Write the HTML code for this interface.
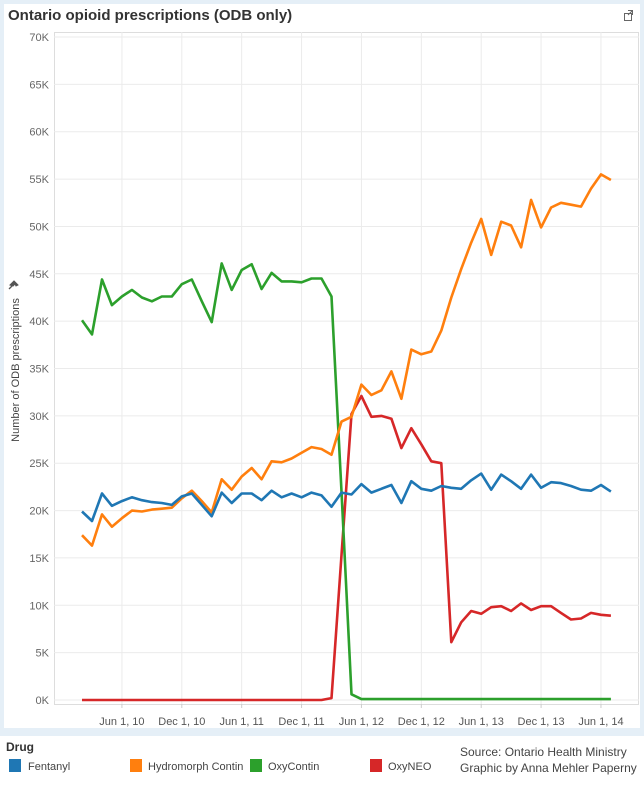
<!DOCTYPE html>
<html><head><meta charset="utf-8">
<style>
body{margin:0;width:644px;height:787px;background:#fff;font-family:"Liberation Sans",sans-serif;overflow:hidden}
svg text{font-family:"Liberation Sans",sans-serif}
</style></head>
<body>
<svg id="chart" width="644" height="787" xmlns="http://www.w3.org/2000/svg">
<rect x="0" y="0" width="644" height="736" fill="#e5eff7"/>
<rect x="4" y="4" width="636" height="724" fill="#fff"/>
<text x="8" y="20" font-size="15" font-weight="bold" fill="#333">Ontario opioid prescriptions (ODB only)</text>
<g stroke="#666" fill="none" stroke-width="1"><rect x="624.5" y="13.5" width="7" height="7"/><path d="M628 10.5h4.5v4.5M632.5 10.5l-4.5 4.5"/></g>
<g id="grid"></g>
<g id="marks"></g>
<text transform="translate(19,370) rotate(-90)" text-anchor="middle" font-size="11" fill="#444">Number of ODB prescriptions</text>
<g fill="#555" stroke="#555"><path d="M10 285 L14 281 L18 285 L16 286 L15 284 L13 286 Z" stroke-width="1"/><line x1="12" y1="286" x2="9" y2="289" stroke-width="1.3"/></g>
<text x="6" y="751" font-size="12" font-weight="bold" fill="#333">Drug</text>
<g><rect x="9" y="759" width="12" height="13" fill="#1f77b4"/><text x="28" y="770" font-size="11" fill="#444">Fentanyl</text></g>
<g><rect x="130" y="759" width="12" height="13" fill="#ff7f0e"/><text x="148" y="770" font-size="11" fill="#444">Hydromorph Contin</text></g>
<g><rect x="250" y="759" width="12" height="13" fill="#2ca02c"/><text x="268" y="770" font-size="11" fill="#444">OxyContin</text></g>
<g><rect x="370" y="759" width="12" height="13" fill="#d62728"/><text x="388" y="770" font-size="11" fill="#444">OxyNEO</text></g>
<text x="460" y="756" font-size="12" fill="#444">Source: Ontario Health Ministry</text>
<text x="460" y="772" font-size="12" fill="#444">Graphic by Anna Mehler Paperny</text>
</svg>
<script>
const yTicks = [0,5,10,15,20,25,30,35,40,45,50,55,60,65,70];
const xTickLabels = ["Jun 1, 10","Dec 1, 10","Jun 1, 11","Dec 1, 11","Jun 1, 12","Dec 1, 12","Jun 1, 13","Dec 1, 13","Jun 1, 14"];
const xTickMonths = [4,10,16,22,28,34,40,46,52];
const seriesNames = ["Fentanyl","Hydromorph Contin","OxyContin","OxyNEO"];
const fentanyl = [19.9,18.9,21.8,20.5,21.0,21.4,21.1,20.9,20.8,20.6,21.5,21.8,20.6,19.4,21.9,20.8,21.8,21.8,21.1,22.1,21.4,21.8,21.4,21.9,21.6,20.4,21.9,21.7,22.8,21.9,22.3,22.7,20.8,23.1,22.3,22.1,22.6,22.4,22.3,23.2,23.9,22.2,23.8,23.1,22.3,23.8,22.4,23.0,22.9,22.6,22.2,22.1,22.7,22.0];
const hydromorph = [17.4,16.3,19.6,18.3,19.2,20.0,19.9,20.1,20.2,20.3,21.3,22.1,21.0,19.8,23.3,22.2,23.6,24.5,23.3,25.2,25.1,25.5,26.1,26.7,26.5,25.9,29.4,29.9,33.3,32.2,32.7,34.7,31.8,37.0,36.5,36.8,39.0,42.5,45.5,48.3,50.8,47.0,50.5,50.1,47.8,52.8,49.9,52.0,52.5,52.3,52.1,54.0,55.5,54.9];
const oxycontin = [40.1,38.6,44.4,41.7,42.6,43.3,42.5,42.1,42.6,42.6,43.9,44.4,42.1,39.9,46.1,43.3,45.4,46.0,43.4,45.1,44.2,44.2,44.1,44.5,44.5,42.6,22.0,0.6,0.1,0.1,0.1,0.1,0.1,0.1,0.1,0.1,0.1,0.1,0.1,0.1,0.1,0.1,0.1,0.1,0.1,0.1,0.1,0.1,0.1,0.1,0.1,0.1,0.1,0.1];
const oxyneo = [0,0,0,0,0,0,0,0,0,0,0,0,0,0,0,0,0,0,0,0,0,0,0,0,0,0.2,15.3,30.2,32.1,29.9,30.0,29.7,26.6,28.7,27.0,25.2,25.0,6.1,8.2,9.4,9.1,9.8,9.9,9.4,10.2,9.5,9.9,9.9,9.2,8.5,8.6,9.2,9.0,8.9];

const NS="http://www.w3.org/2000/svg";
const X0=82, MONTH=9.98;
function xScale(i){return X0+i*MONTH;}
function yScale(v){return 700-v*9.471;}
function mk(tag,attrs,parent){const e=document.createElementNS(NS,tag);for(const k in attrs)e.setAttribute(k,attrs[k]);parent.appendChild(e);return e;}
const grid=document.getElementById('grid'), marks=document.getElementById('marks');
mk('rect',{x:54.5,y:32.5,width:584,height:672,fill:'none',stroke:'#ddd'},grid);
yTicks.forEach(t=>{
  const y=yScale(t);
  const l=mk('line',{x1:54,x2:639,y1:y,y2:y,stroke:'#ebebeb'},grid);
  
  
  const tx=mk('text',{x:49,y:y+4,'text-anchor':'end','font-size':11,fill:'#666'},grid);
  tx.textContent=t+'K';
  
  
});
xTickMonths.forEach((m,i)=>{
  const x=xScale(m);
  const l=mk('line',{x1:x,x2:x,y1:32,y2:704,stroke:'#ebebeb'},grid);
  
  
  const tk=mk('line',{x1:x,x2:x,y1:704,y2:708,stroke:'#ccc'},grid);
  
  
  const tx=mk('text',{x:x,y:725,'text-anchor':'middle','font-size':11,fill:'#555'},grid);
  tx.textContent=xTickLabels[i];
  
  
});
const all=[fentanyl,hydromorph,oxycontin,oxyneo];
const colors=['#1f77b4','#ff7f0e','#2ca02c','#d62728'];
const names=['line-fentanyl','line-hydromorph-contin','line-oxycontin','line-oxyneo'];
[3,2,1,0].forEach(k=>{
  const d=all[k].map((v,i)=>(i?'L':'M')+xScale(i).toFixed(1)+' '+yScale(v).toFixed(1)).join(' ');
  const p=mk('path',{d:d,fill:'none',stroke:colors[k],'stroke-width':2.6,'stroke-linejoin':'round'},marks);
  
  
});
</script>
</body></html>
